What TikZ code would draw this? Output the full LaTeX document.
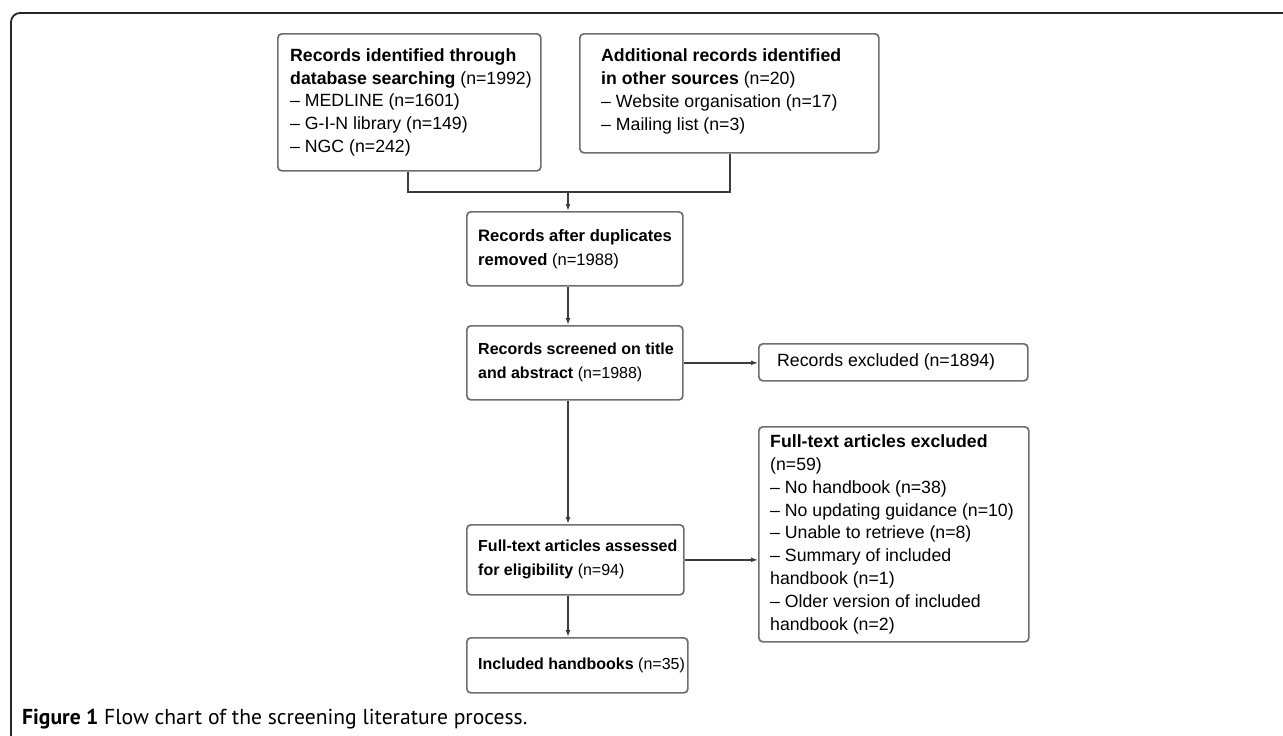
\documentclass[tikz,border=0pt]{standalone}
\usepackage{fontspec}
\setmainfont{Liberation Sans}
\newfontfamily\capfont{PT Sans}
\usetikzlibrary{arrows.meta}
\definecolor{boxgray}{HTML}{6E6E6E}
\definecolor{arrgray}{HTML}{3C3C3C}
\tikzset{
  fbox/.style={draw=boxgray, line width=1.7pt, rounded corners=4pt, anchor=north west,
    inner sep=0pt},
  txt/.style={anchor=west, inner sep=0pt, align=left},
  big/.style={font=\fontsize{17.7}{22.8}\selectfont},
  mid/.style={font=\fontsize{16}{24}\selectfont},
  conn/.style={draw=arrgray, line width=1.4pt},
  arr/.style={conn, -{Latex[length=7pt,width=5pt]}}
}
\begin{document}
\begin{tikzpicture}[x=1pt,y=-1pt]
\useasboundingbox (0,0) rectangle (1283,736);
% outer frame
\draw[line width=1.8pt, black!85, rounded corners=9pt] (11,736) -- (11,13) -- (1283,13);
% boxes
\node[fbox, minimum width=263pt, minimum height=137pt] (A) at (277,33) {};
\node[fbox, minimum width=299pt, minimum height=119pt] (B) at (579,33) {};
\node[fbox, minimum width=216pt, minimum height=74pt] (C) at (466,211) {};
\node[fbox, minimum width=216pt, minimum height=74pt] (D) at (466,325) {};
\node[fbox, minimum width=269pt, minimum height=37pt] (R) at (758,343) {};
\node[fbox, minimum width=270pt, minimum height=215pt] (X) at (758,426) {};
\node[fbox, minimum width=217pt, minimum height=70pt] (E) at (466,524) {};
\node[fbox, minimum width=221pt, minimum height=55pt] (F) at (466,637) {};
% texts
\node[txt, big] (At) at ([xshift=13pt]A.west)
  {\textbf{Records identified through}\\\textbf{database searching} (n=1992)\\-- MEDLINE (n=1601)\\-- G-I-N library (n=149)\\-- NGC (n=242)};
\node[txt, big] (Bt) at ([xshift=22pt,yshift=2pt]B.west)
  {\textbf{Additional records identified}\\\textbf{in other sources} (n=20)\\-- Website organisation (n=17)\\-- Mailing list (n=3)};
\node[txt, font=\fontsize{16.6}{24}\selectfont] (Ct) at ([xshift=12pt]C.west)
  {\textbf{Records after duplicates}\\\textbf{removed} (n=1988)};
\node[txt, mid] (Dt) at ([xshift=12pt]D.west)
  {\textbf{Records screened on title}\\\textbf{and abstract} (n=1988)};
\node[txt, big] (Rt) at ([xshift=19pt]R.west)
  {Records excluded (n=1894)};
\node[txt, big] (Xt) at ([xshift=12pt]X.west)
  {\textbf{Full-text articles excluded}\\(n=59)\\-- No handbook (n=38)\\-- No updating guidance (n=10)\\-- Unable to retrieve (n=8)\\-- Summary of included\\handbook (n=1)\\-- Older version of included\\handbook (n=2)};
\node[txt, mid] (Et) at ([xshift=12pt]E.west)
  {\textbf{Full-text articles assessed}\\\textbf{for eligibility} (n=94)};
\node[txt, mid] (Ft) at ([xshift=12pt]F.west)
  {\textbf{Included handbooks} (n=35)};
% connectors
\coordinate (j1) at (408,192);
\coordinate (j2) at (730,192);
\coordinate (jm) at (568,192);
\draw[conn] (A.south -| j1) -- (j1) -- (j2) -- (B.south -| j2);
\draw[arr] (jm) -- (C.north -| jm);
\draw[arr] (C.south -| jm) -- (D.north -| jm);
\draw[arr] (D.east) -- (R.west |- D.east);
\draw[arr] (D.south -| jm) -- (E.north -| jm);
\draw[arr] (E.east) -- (X.west |- E.east);
\draw[arr] (E.south -| jm) -- (F.north -| jm);
% caption
\node[anchor=base west, inner sep=0pt, font=\capfont\fontsize{21.6}{25}\selectfont] (cap) at (22,724)
  {\textbf{Figure 1} Flow chart of the screening literature process.};
\end{tikzpicture}
\end{document}
